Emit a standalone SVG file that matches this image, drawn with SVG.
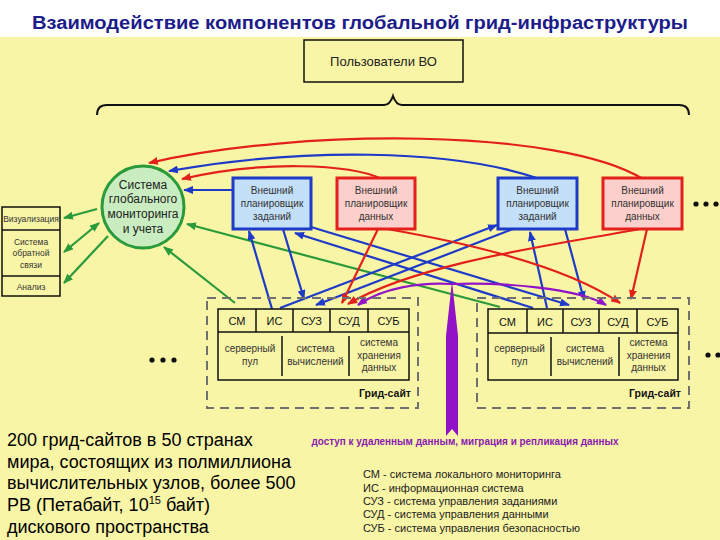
<svg xmlns="http://www.w3.org/2000/svg" width="720" height="540" viewBox="0 0 720 540">
<defs>
<style>
text{font-family:"Liberation Sans",Arial,sans-serif;fill:#222}
.title{font-size:18px;font-weight:bold;fill:#1C1C8A}
.bg{fill:#F9F5A6}
.plan-b{fill:#C4DFF8;stroke:#1E3AC8;stroke-width:3}
.plan-r{fill:#FBD0CC;stroke:#E3201B;stroke-width:3}
.pt{font-size:10px;fill:#333;text-anchor:middle}
.c{fill:none;stroke-width:2.2}
.b{stroke:#1E3AC8}
.r{stroke:#E3201B}
.g{stroke:#2A9A3A}
.p{stroke:#9212C8}
.dash{fill:none;stroke:#707070;stroke-width:2;stroke-dasharray:9,6}
.tbl{fill:#F9F5A6;stroke:#111;stroke-width:1.5}
.ln{stroke:#111;stroke-width:1.5}
.th{font-size:11px;text-anchor:middle;fill:#111}
.td{font-size:10px;text-anchor:middle;fill:#333}
.gs{font-size:10.5px;font-weight:bold;text-anchor:end;fill:#111}
.lb{font-size:8.5px;text-anchor:middle;fill:#333}
.ct{font-size:12px;text-anchor:middle;fill:#222}
.para{font-size:18px;fill:#000}
.leg{font-size:11px;fill:#222}
.plabel{font-size:10px;font-weight:bold;fill:#8A1AB0;text-anchor:middle}
.usr{font-size:13px;fill:#222;text-anchor:middle}
.dot{fill:#111}
</style>
<marker id="ab" viewBox="0 0 10 8" refX="9" refY="4" markerWidth="10" markerHeight="8" markerUnits="userSpaceOnUse" orient="auto-start-reverse"><path d="M0,0 L10,4 L0,8 z" fill="#1E3AC8"/></marker>
<marker id="ar" viewBox="0 0 10 8" refX="9" refY="4" markerWidth="10" markerHeight="8" markerUnits="userSpaceOnUse" orient="auto-start-reverse"><path d="M0,0 L10,4 L0,8 z" fill="#E3201B"/></marker>
<marker id="ag" viewBox="0 0 10 8" refX="9" refY="4" markerWidth="10" markerHeight="8" markerUnits="userSpaceOnUse" orient="auto-start-reverse"><path d="M0,0 L10,4 L0,8 z" fill="#2A9A3A"/></marker>
<marker id="ap" viewBox="0 0 10 8" refX="9" refY="4" markerWidth="10" markerHeight="8" markerUnits="userSpaceOnUse" orient="auto-start-reverse"><path d="M0,0 L10,4 L0,8 z" fill="#9212C8"/></marker>
</defs>

<rect x="0" y="0" width="720" height="540" fill="#ffffff"/>
<rect class="bg" x="0" y="37" width="720" height="503"/>
<text class="title" x="360" y="29" text-anchor="middle" textLength="656" lengthAdjust="spacingAndGlyphs">Взаимодействие компонентов глобальной грид-инфраструктуры</text>

<g id="users">
<rect x="304" y="40" width="159" height="42" fill="#F9F5A6" stroke="#111" stroke-width="1.5"/>
<text class="usr" x="383.5" y="66">Пользователи ВО</text>
</g>

<g id="brace">
<path d="M97,115 Q97,105 107,105 L384,105 Q390,105 393,96 Q396,105 402,105 L679,105 Q689,105 689,115" fill="none" stroke="#111" stroke-width="2"/>
</g>

<g id="connectors">
<path class="c g" d="M97,209 L64,218" marker-end="url(#ag)"/>
<path class="c g" d="M99,223 L64,252" marker-start="url(#ag)" marker-end="url(#ag)"/>
<path class="c g" d="M108,236 L64,283" marker-end="url(#ag)"/>
<path class="c g" d="M235,303 L164,247" marker-end="url(#ag)"/>
<path class="c g" d="M500,307 L187,224" marker-end="url(#ag)"/>
<path class="c r" d="M643,179 C560,128 300,128 149,163" marker-end="url(#ar)"/>
<path class="c b" d="M540,179 C450,148 300,148 169,171" marker-end="url(#ab)"/>
<path class="c r" d="M382,179 C350,164 262,160 182,179" marker-end="url(#ar)"/>
<path class="c b" d="M233,190 L184,190" marker-end="url(#ab)"/>
<path class="c b" d="M272,309 L249,231" marker-end="url(#ab)"/>
<path class="c b" d="M283,229 L304,299" marker-end="url(#ab)"/>
<path class="c b" d="M280,308 L497,225" marker-end="url(#ab)"/>
<path class="c b" d="M513,229 L316,305" marker-end="url(#ab)"/>
<path class="c b" d="M311,227 L569,305" marker-end="url(#ab)"/>
<path class="c b" d="M533,308 L295,233" marker-end="url(#ab)"/>
<path class="c b" d="M547,308 L530,232" marker-end="url(#ab)"/>
<path class="c b" d="M565,229 L584,300" marker-end="url(#ab)"/>
<path class="c r" d="M378,229 L342,303" marker-end="url(#ar)"/>
<path class="c r" d="M387,229 C450,240 560,262 620,303" marker-end="url(#ar)"/>
<path class="c r" d="M640,229 C560,244 420,262 348,304" marker-end="url(#ar)"/>
<path class="c r" d="M647,229 L631,299" marker-end="url(#ar)"/>
<path class="c p" d="M452,284 C420,282 382,288 358,305" marker-end="url(#ap)"/>
<path class="c p" d="M452,284 C500,282 578,288 606,305" marker-end="url(#ap)"/>
<polygon points="452,281 458,336 458,436 452,429 446,436 446,336" fill="#9212C8"/>
</g>

<g id="monitoring">
<circle cx="143" cy="207" r="41" fill="#C9EDC0" stroke="#2A9A3A" stroke-width="3"/>
<text class="ct" x="143" y="189">Система</text>
<text class="ct" x="143" y="203">глобального</text>
<text class="ct" x="143" y="218">мониторинга</text>
<text class="ct" x="143" y="233">и учета</text>
</g>

<g id="tools">
<rect x="2" y="207" width="58" height="89" fill="#F9F5A6" stroke="#111" stroke-width="1.5"/>
<line class="ln" x1="2" y1="230" x2="60" y2="230"/>
<line class="ln" x1="2" y1="276" x2="60" y2="276"/>
<text class="lb" x="31" y="222">Визуализация</text>
<text class="lb" x="31" y="245">Система</text>
<text class="lb" x="31" y="256">обратной</text>
<text class="lb" x="31" y="268">связи</text>
<text class="lb" x="31" y="290">Анализ</text>
</g>

<g id="job-planner-1">
<rect class="plan-b" x="233" y="178" width="78" height="51"/>
<text class="pt" x="272" y="194">Внешний</text>
<text class="pt" x="272" y="207">планировщик</text>
<text class="pt" x="272" y="220">заданий</text>
</g>
<g id="data-planner-1">
<rect class="plan-r" x="337" y="178" width="78" height="51"/>
<text class="pt" x="376" y="194">Внешний</text>
<text class="pt" x="376" y="207">планировщик</text>
<text class="pt" x="376" y="220">данных</text>
</g>
<g id="job-planner-2">
<rect class="plan-b" x="498" y="178" width="79" height="51"/>
<text class="pt" x="537.5" y="194">Внешний</text>
<text class="pt" x="537.5" y="207">планировщик</text>
<text class="pt" x="537.5" y="220">заданий</text>
</g>
<g id="data-planner-2">
<rect class="plan-r" x="603" y="178" width="79" height="51"/>
<text class="pt" x="642.5" y="194">Внешний</text>
<text class="pt" x="642.5" y="207">планировщик</text>
<text class="pt" x="642.5" y="220">данных</text>
</g>
<g id="dots-top">
<circle class="dot" cx="696" cy="204" r="2.6"/>
<circle class="dot" cx="706" cy="204" r="2.6"/>
<circle class="dot" cx="716" cy="204" r="2.6"/>
</g>

<g id="grid-site-1">
<rect class="dash" x="207" y="298" width="211" height="110"/>
<rect class="tbl" x="218" y="309" width="191" height="71"/>
<line class="ln" x1="218" y1="332" x2="409" y2="332"/>
<line class="ln" x1="256" y1="309" x2="256" y2="332"/>
<line class="ln" x1="293" y1="309" x2="293" y2="332"/>
<line class="ln" x1="330" y1="309" x2="330" y2="332"/>
<line class="ln" x1="368" y1="309" x2="368" y2="332"/>
<line class="ln" x1="282" y1="336" x2="282" y2="376"/>
<line class="ln" x1="349" y1="336" x2="349" y2="376"/>
<text class="th" x="237" y="325">СМ</text>
<text class="th" x="274.5" y="325">ИС</text>
<text class="th" x="311.5" y="325">СУЗ</text>
<text class="th" x="349" y="325">СУД</text>
<text class="th" x="388.5" y="325">СУБ</text>
<text class="td" x="250" y="352">серверный</text>
<text class="td" x="250" y="365">пул</text>
<text class="td" x="315.5" y="352">система</text>
<text class="td" x="315.5" y="365">вычислений</text>
<text class="td" x="379" y="346">система</text>
<text class="td" x="379" y="358.5">хранения</text>
<text class="td" x="379" y="371">данных</text>
<text class="gs" x="411" y="397">Грид-сайт</text>
</g>

<g id="grid-site-2">
<rect class="dash" x="477" y="298" width="212" height="110"/>
<rect class="tbl" x="488" y="309" width="190" height="71"/>
<line class="ln" x1="488" y1="333" x2="678" y2="333"/>
<line class="ln" x1="527" y1="309" x2="527" y2="333"/>
<line class="ln" x1="563" y1="309" x2="563" y2="333"/>
<line class="ln" x1="599" y1="309" x2="599" y2="333"/>
<line class="ln" x1="637" y1="309" x2="637" y2="333"/>
<line class="ln" x1="551" y1="337" x2="551" y2="376"/>
<line class="ln" x1="619" y1="337" x2="619" y2="376"/>
<text class="th" x="507.5" y="326">СМ</text>
<text class="th" x="545" y="326">ИС</text>
<text class="th" x="581" y="326">СУЗ</text>
<text class="th" x="618" y="326">СУД</text>
<text class="th" x="657.5" y="326">СУБ</text>
<text class="td" x="519.5" y="352">серверный</text>
<text class="td" x="519.5" y="365">пул</text>
<text class="td" x="585" y="352">система</text>
<text class="td" x="585" y="365">вычислений</text>
<text class="td" x="648.5" y="346">система</text>
<text class="td" x="648.5" y="358.5">хранения</text>
<text class="td" x="648.5" y="371">данных</text>
<text class="gs" x="681" y="397">Грид-сайт</text>
</g>

<g id="dots-mid">
<circle class="dot" cx="152" cy="360" r="2.6"/>
<circle class="dot" cx="163" cy="360" r="2.6"/>
<circle class="dot" cx="174" cy="360" r="2.6"/>
<circle class="dot" cx="708" cy="355" r="2.6"/>
<circle class="dot" cx="718" cy="355" r="2.6"/>
</g>

<text class="plabel" x="465" y="445" textLength="307" lengthAdjust="spacingAndGlyphs">доступ к удаленным данным, миграция и репликация данных</text>

<g id="summary">
<text class="para" x="7" y="446">200 грид-сайтов в 50 странах</text>
<text class="para" x="7" y="468">мира, состоящих из полмиллиона</text>
<text class="para" x="7" y="489">вычислительных узлов, более 500</text>
<text class="para" x="7" y="511">PB (Петабайт, 10<tspan font-size="11" dy="-7">15</tspan><tspan dy="7"> байт)</tspan></text>
<text class="para" x="7" y="533">дискового пространства</text>
</g>

<g id="legend">
<text class="leg" x="363" y="478">СМ  - система локального мониторинга</text>
<text class="leg" x="363" y="492">ИС  - информационная система</text>
<text class="leg" x="363" y="505">СУЗ - система управления заданиями</text>
<text class="leg" x="363" y="518">СУД - система управления данными</text>
<text class="leg" x="363" y="532">СУБ - система управления безопасностью</text>
</g>
</svg>
